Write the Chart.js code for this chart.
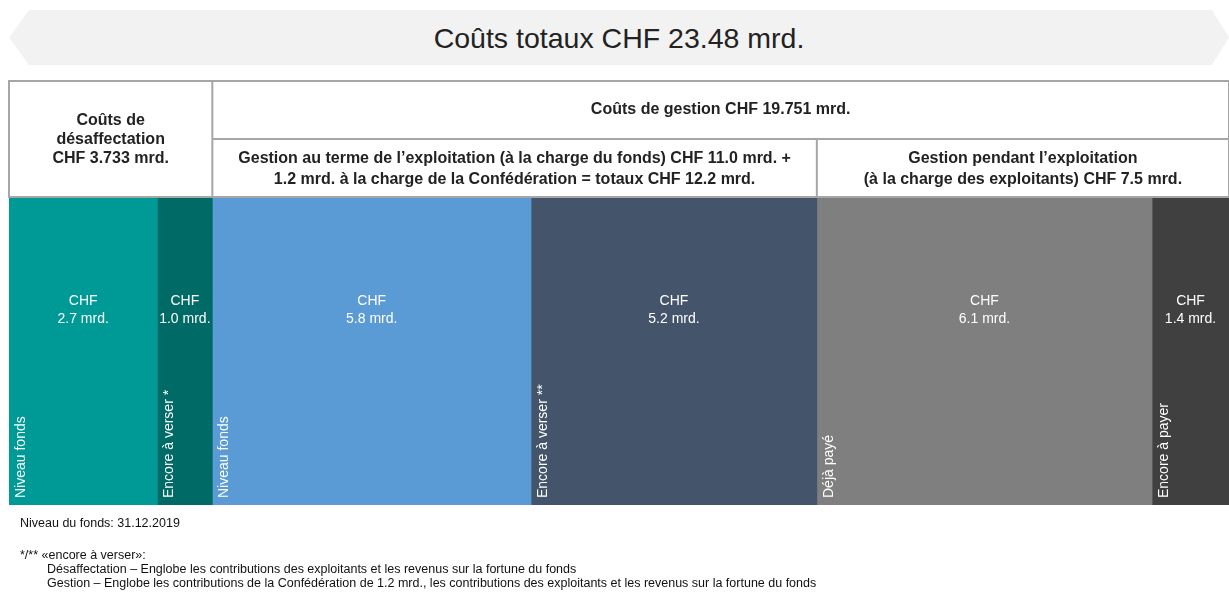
<!DOCTYPE html>
<html>
<head>
<meta charset="utf-8">
<script src="https://cdn.jsdelivr.net/npm/chart.js@4"></script>
<style>
  body { margin: 0; background: #fff; font-family: "Liberation Sans", Arial, sans-serif; }
  #wrap { position: relative; width: 1229px; height: 593px; }
  #banner {
    position: absolute; left: 9px; top: 10px; width: 1220px; height: 55px;
    background: #f2f2f2;
    clip-path: polygon(20px 0, 1203px 0, 1220px 50%, 1203px 100%, 20px 100%, 0 50%);
    font-size: 28.5px; color: #222; text-align: center; line-height: 56px;
  }
  #notes { position: absolute; left: 20px; top: 516px; font-size: 12.5px; color: #111; line-height: 14px; }
  #notes .ind { padding-left: 27px; }
</style>
</head>
<body>
<div id="wrap">
  <canvas id="chart"></canvas>
  <div id="banner">Coûts totaux CHF 23.48 mrd.</div>
  <div id="notes">
    <div>Niveau du fonds: 31.12.2019</div>
    <div style="margin-top:18px">*/** «encore à verser»:</div>
    <div class="ind">Désaffectation – Englobe les contributions des exploitants et les revenus sur la fortune du fonds</div>
    <div class="ind">Gestion – Englobe les contributions de la Confédération de 1.2 mrd., les contributions des exploitants et les revenus sur la fortune du fonds</div>
  </div>
</div>
<script>
const segLabels = ['Niveau fonds', 'Encore à verser *', 'Niveau fonds', 'Encore à verser **', 'Déjà payé', 'Encore à payer'];
const segValues = [2.7, 1.0, 5.8, 5.2, 6.1, 1.4];
const segColors = ['#009a96', '#006a66', '#5b9bd5', '#44546a', '#7f7f7f', '#404040'];
const valueTexts = ['2.7 mrd.', '1.0 mrd.', '5.8 mrd.', '5.2 mrd.', '6.1 mrd.', '1.4 mrd.'];

// header groups: [first segment, last segment, lines]
const topHeaders = [
  [0, 1, ['Coûts de', 'désaffectation', 'CHF 3.733 mrd.']],
  [2, 5, ['Coûts de gestion CHF 19.751 mrd.']]
];
const subHeaders = [
  [2, 3, ['Gestion au terme de l\u2019exploitation (à la charge du fonds) CHF 11.0 mrd. +', '1.2 mrd. à la charge de la Confédération = totaux CHF 12.2 mrd.']],
  [4, 5, ['Gestion pendant l\u2019exploitation', '(à la charge des exploitants) CHF 7.5 mrd.']]
];

const total = segValues.reduce((a, b) => a + b, 0);
const FONT = '"Liberation Sans", Arial, sans-serif';

const datasets = segValues.map((v, i) => ({
  label: segLabels[i],
  data: [v],
  backgroundColor: segColors[i],
  borderWidth: 0,
  barPercentage: 1,
  categoryPercentage: 1
}));

const overlay = {
  id: 'overlay',
  afterDraw(chart) {
    const ctx = chart.ctx;
    const x = chart.scales.x;
    const area = chart.chartArea;
    let cum = [0];
    segValues.forEach(v => cum.push(cum[cum.length - 1] + v));
    const px = cum.map(c => x.getPixelForValue(c));

    const tTop = 81, tMid = 139, tBot = area.top - 1;
    ctx.save();
    // table header
    ctx.strokeStyle = '#a6a6a6';
    ctx.lineWidth = 2;
    ctx.strokeRect(px[0], tTop, px[6] - px[0], tBot - tTop);
    ctx.beginPath();
    ctx.moveTo(px[2], tTop); ctx.lineTo(px[2], tBot);
    ctx.moveTo(px[2], tMid); ctx.lineTo(px[6], tMid);
    ctx.moveTo(px[4], tMid); ctx.lineTo(px[4], tBot);
    ctx.stroke();

    ctx.fillStyle = '#222';
    ctx.font = 'bold 16px ' + FONT;
    ctx.textAlign = 'center';
    ctx.textBaseline = 'middle';
    topHeaders.forEach(([a, b, lines]) => {
      const cx = (px[a] + px[b + 1]) / 2;
      if (lines.length === 3) {
        lines.forEach((l, i) => ctx.fillText(l, cx, 121 + i * 19));
      } else {
        ctx.fillText(lines[0], cx, (tTop + tMid) / 2);
      }
    });
    subHeaders.forEach(([a, b, lines]) => {
      const cx = (px[a] + px[b + 1]) / 2;
      lines.forEach((l, i) => ctx.fillText(l, cx, 159 + i * 21));
    });

    // segment labels
    ctx.fillStyle = '#fff';
    ctx.font = '14px ' + FONT;
    segValues.forEach((v, i) => {
      const cx = (px[i] + px[i + 1]) / 2;
      ctx.textAlign = 'center';
      ctx.fillText('CHF', cx, 301);
      ctx.fillText(valueTexts[i], cx, 319);
      ctx.save();
      ctx.translate(px[i] + 12, area.bottom - 7);
      ctx.rotate(-Math.PI / 2);
      ctx.textAlign = 'left';
      ctx.fillText(segLabels[i], 0, 0);
      ctx.restore();
    });
    ctx.restore();
  }
};

new Chart(document.getElementById('chart'), {
  type: 'bar',
  data: { labels: [''], datasets: datasets },
  options: {
    indexAxis: 'y',
    responsive: true,
    maintainAspectRatio: false,
    animation: false,
    layout: { padding: { top: 198, bottom: 88, left: 9, right: 0 } },
    scales: {
      x: { stacked: true, min: 0, max: total, display: false },
      y: { stacked: true, display: false }
    },
    plugins: { legend: { display: false }, tooltip: { enabled: false } }
  },
  plugins: [overlay]
});
</script>
</body>
</html>
